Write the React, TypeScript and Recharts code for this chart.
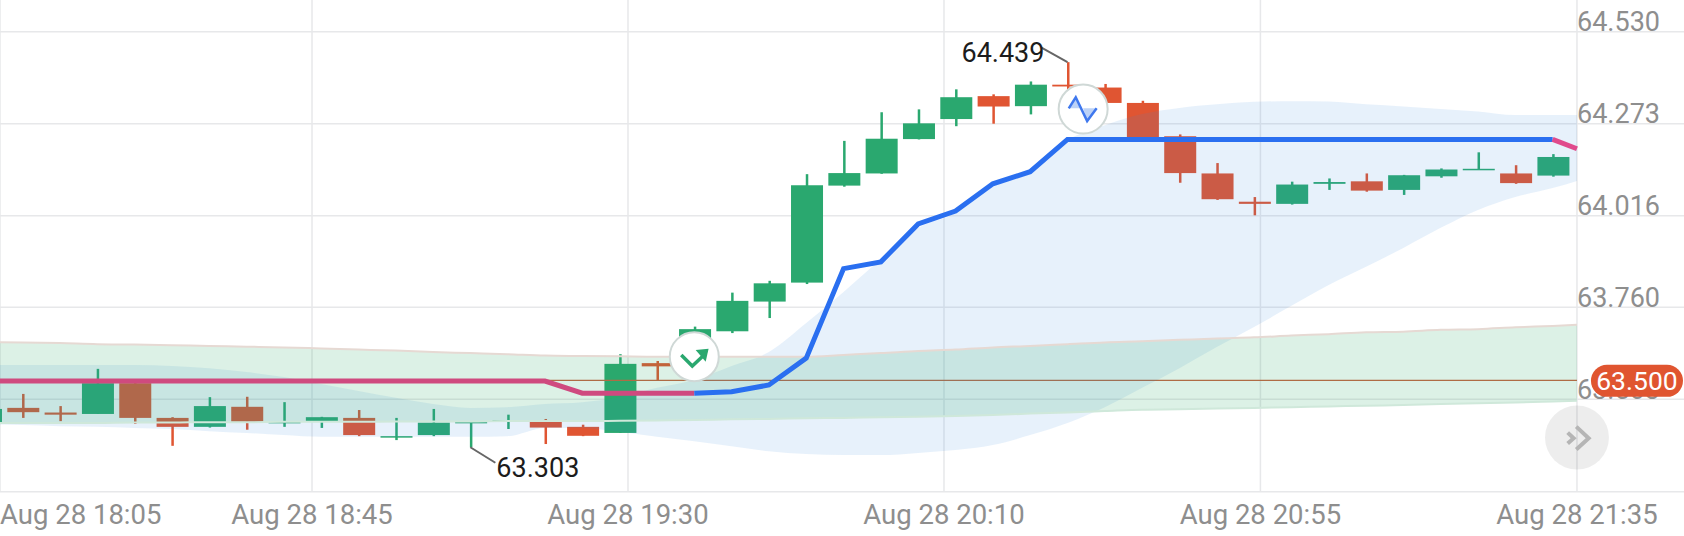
import React from "react";
import {
  ComposedChart, Bar, Area, Line, XAxis, YAxis, CartesianGrid, ReferenceLine, ReferenceDot,
} from "recharts";

const FONT = "Roboto, sans-serif";
const WIDTH = 1684;
const HEIGHT = 536;

const candleOpen = [63.434,63.479,63.466,63.462,63.548,63.451,63.426,63.482,63.437,63.440,63.451,63.398,63.403,63.438,63.442,63.442,63.426,63.409,63.604,63.635,63.693,63.776,63.829,64.100,64.134,64.230,64.286,64.350,64.322,64.382,64.374,64.331,64.238,64.134,64.055,64.049,64.105,64.112,64.088,64.126,64.144,64.134,64.128];
const candleClose = [63.476,63.467,63.460,63.548,63.451,63.426,63.484,63.440,63.440,63.453,63.403,63.400,63.438,63.440,63.445,63.424,63.401,63.602,63.595,63.699,63.778,63.827,64.101,64.135,64.231,64.274,64.347,64.321,64.382,64.377,64.331,64.230,64.135,64.062,64.049,64.103,64.110,64.086,64.129,64.145,64.147,64.107,64.180];
const candleHigh = [63.487,63.518,63.484,63.588,63.554,63.453,63.509,63.510,63.495,63.454,63.473,63.451,63.476,63.440,63.460,63.448,63.432,63.629,63.610,63.706,63.801,63.834,64.132,64.225,64.305,64.313,64.369,64.355,64.391,64.445,64.384,64.337,64.243,64.163,64.068,64.111,64.120,64.134,64.130,64.148,64.193,64.157,64.188];
const candleLow = [63.428,63.451,63.442,63.462,63.434,63.373,63.424,63.418,63.426,63.423,63.400,63.389,63.400,63.369,63.420,63.378,63.400,63.409,63.557,63.630,63.688,63.730,63.825,64.097,64.133,64.229,64.266,64.273,64.299,64.353,64.330,64.229,64.108,64.060,64.017,64.047,64.088,64.083,64.074,64.122,64.144,64.105,64.125];

// The last entry of each indicator list is its value at the right edge of the drawn range.
const blueUpper = [63.599,63.599,63.599,63.599,63.599,63.596,63.590,63.579,63.565,63.546,63.526,63.507,63.490,63.479,63.481,63.490,63.495,63.509,63.535,63.557,63.596,63.635,63.716,63.803,63.895,63.982,64.023,64.099,64.135,64.227,64.269,64.300,64.317,64.327,64.334,64.336,64.335,64.327,64.321,64.314,64.307,64.297,64.297,64.297];
const blueLower = [63.434,63.431,63.428,63.426,63.423,63.420,63.414,63.409,63.403,63.398,63.398,63.398,63.398,63.398,63.400,63.423,63.423,63.412,63.398,63.386,63.372,63.358,63.350,63.347,63.347,63.353,63.361,63.375,63.403,63.437,63.481,63.535,63.590,63.649,63.705,63.764,63.822,63.873,63.926,63.982,64.032,64.068,64.093,64.113];
const greenUpper = [63.663,63.662,63.660,63.657,63.656,63.654,63.652,63.650,63.648,63.645,63.642,63.639,63.635,63.632,63.629,63.625,63.624,63.623,63.622,63.622,63.622,63.622,63.622,63.627,63.632,63.638,63.642,63.648,63.652,63.657,63.662,63.665,63.669,63.673,63.676,63.681,63.685,63.690,63.692,63.697,63.699,63.704,63.708,63.711];
const greenLower = [63.436,63.437,63.437,63.437,63.438,63.438,63.439,63.439,63.440,63.440,63.440,63.441,63.441,63.441,63.442,63.442,63.442,63.443,63.444,63.445,63.447,63.448,63.450,63.451,63.453,63.454,63.456,63.459,63.463,63.466,63.470,63.474,63.475,63.477,63.479,63.481,63.483,63.485,63.487,63.490,63.492,63.494,63.497,63.499];
const trendLine = [63.554,63.554,63.554,63.554,63.554,63.554,63.554,63.554,63.554,63.554,63.554,63.554,63.554,63.554,63.554,63.554,63.520,63.520,63.520,63.520,63.524,63.543,63.618,63.868,63.887,63.993,64.029,64.105,64.139,64.229,64.229,64.229,64.229,64.229,64.229,64.229,64.229,64.229,64.229,64.229,64.229,64.229,64.229,64.203];

const X_MIN = 0.3966;
const X_MAX = 45.52;
const X_END = 42.652;
const Y_MIN = 63.2448;
const Y_MAX = 64.6186;

const xTickValues = [X_MIN, 8.757, 17.224, 25.691, 34.17, X_END];
const xTickLabels = ["Aug 28 18:05", "Aug 28 18:45", "Aug 28 19:30", "Aug 28 20:10", "Aug 28 20:55", "Aug 28 21:35"];
const yTickValues = [64.53, 64.273, 64.016, 63.76, 63.503];
const yTickLabels = ["64.530", "64.273", "64.016", "63.760", "63.503"];

const LAST_PRICE_LEVEL = 63.556;
const LAST_PRICE_LABEL = "63.500";
const HIGH_LABEL = "64.439";
const LOW_LABEL = "63.303";
const HIGH_INDEX = 29;
const LOW_INDEX = 13;
const BUY_INDEX = 19;
const BUY_LEVEL = 63.622;
const WAVE_INDEX = 29.42;
const WAVE_LEVEL = 64.314;
const NEXT_LEVEL = 63.396;

const PINK_END = 19;
const BLUE_END = 42;

const rows = trendLine.map((t, i) => {
  const isCandle = i < candleOpen.length;
  return {
    x: isCandle ? i : X_END,
    open: isCandle ? candleOpen[i] : null,
    close: isCandle ? candleClose[i] : null,
    high: isCandle ? candleHigh[i] : null,
    low: isCandle ? candleLow[i] : null,
    range: isCandle ? [candleLow[i], candleHigh[i]] : null,
    blueBand: [blueLower[i], blueUpper[i]],
    greenBand: [greenLower[i], greenUpper[i]],
    greenTop: greenUpper[i],
    greenBottom: greenLower[i],
    pinkA: i <= PINK_END ? t : null,
    blue: i >= PINK_END && i <= BLUE_END ? t : null,
    pinkB: i >= BLUE_END ? t : null,
  };
});

const UP = "#2aa86f";
const DOWN = "#e05532";
const GRID = "#e7e8ea";
const LABEL = "#8e8e8e";

function Candle(props: any) {
  const { x, y, width, height, payload } = props;
  if (!payload || payload.open == null || !height) return null;
  const { open, close, high, low } = payload;
  const perUnit = height / (high - low);
  const top = y + (high - Math.max(open, close)) * perUnit;
  const bottom = y + (high - Math.min(open, close)) * perUnit;
  const cx = x + width / 2 + 1;
  const color = close >= open ? UP : DOWN;
  return (
    <g>
      <rect x={cx - 1.25} y={y} width={2.5} height={height} fill={color} />
      <rect x={cx - 16} y={top} width={32} height={Math.max(bottom - top, 1.5)} fill={color} />
    </g>
  );
}

function XTick(props: any) {
  const { x, y, payload, index } = props;
  const first = index === 0;
  return (
    <text x={x} y={y + 15} dy="0.35em" textAnchor={first ? "start" : "middle"}
      fontSize={27.5} fontFamily={FONT} fill={LABEL}>
      {xTickLabels[xTickValues.indexOf(payload.value)]}
    </text>
  );
}

function YTick(props: any) {
  const { y, payload } = props;
  return (
    <text x={1577} y={y} dy={-0.5} textAnchor="start" fontSize={27} fontFamily={FONT} fill={LABEL}>
      {yTickLabels[yTickValues.indexOf(payload.value)]}
    </text>
  );
}

function PricePill(props: any) {
  const { cx, cy } = props;
  return (
    <g>
      <rect x={cx + 14} y={cy - 15.5} width={92} height={32} rx={16} fill="#e05530" />
      <text x={cx + 60} y={cy + 0.5} dy="0.35em" textAnchor="middle" fontSize={26.5} fontFamily={FONT} fill="#fff">
        {LAST_PRICE_LABEL}
      </text>
    </g>
  );
}

function HighNote(props: any) {
  const { cx, cy } = props;
  return (
    <g>
      <polyline points={`${cx},${cy} ${cx - 26},${cy - 14.5}`} fill="none" stroke="#666" strokeWidth={2} />
      <text x={cx - 23} y={cy} textAnchor="end" fontSize={27} fontFamily={FONT} fill="#1c1c1c">
        {HIGH_LABEL}
      </text>
    </g>
  );
}

function LowNote(props: any) {
  const { cx, cy } = props;
  return (
    <g>
      <polyline points={`${cx},${cy} ${cx + 25},${cy + 15.5}`} fill="none" stroke="#666" strokeWidth={2} />
      <text x={cx + 26} y={cy + 30} textAnchor="start" fontSize={27} fontFamily={FONT} fill="#1c1c1c">
        {LOW_LABEL}
      </text>
    </g>
  );
}

function BuyBadge(props: any) {
  const { cx, cy } = props;
  return (
    <g transform={`translate(${cx},${cy})`}>
      <circle r={24.5} fill="#fff" stroke="#cfd8d6" strokeWidth={2} />
      <polyline points="-13,-1.7 -2,9.3 9,-1" fill="none" stroke={UP} strokeWidth={3.5} />
      <polygon points="1.4,-6.7 14.3,-8 11.4,5" fill={UP} />
    </g>
  );
}

function WaveBadge(props: any) {
  const { cx, cy } = props;
  return (
    <g transform={`translate(${cx},${cy})`}>
      <circle r={24.5} fill="#fff" stroke="#cfd8d6" strokeWidth={2} />
      <polygon points="-14.4,-0.7 -7.4,-11.7 -2,-0.7" fill="#bcd2f7" />
      <polygon points="0,-0.7 13.5,-0.7 4,12" fill="#bcd2f7" />
      <polyline points="-14.4,-0.7 -7.4,-11.7 4,12 13.5,-0.7" fill="none" stroke="#3f78ee" strokeWidth={2.5} />
    </g>
  );
}

function NextButton(props: any) {
  const { cx, cy } = props;
  return (
    <g transform={`translate(${cx},${cy})`}>
      <circle r={32} fill="#000" fillOpacity={0.07} />
      <polyline points="-9.3,-5 -3.3,0.7 -9.3,6" fill="none" stroke="#b5b5b5" strokeWidth={4} />
      <polyline points="-0.7,-11 11.7,0.7 -0.7,12" fill="none" stroke="#b5b5b5" strokeWidth={4} />
    </g>
  );
}

export default function App() {
  return (
    <div style={{ position: "absolute", left: 0, top: 0, width: WIDTH, height: HEIGHT, background: "#fff", overflow: "hidden" }}>
      <ComposedChart width={WIDTH} height={HEIGHT} data={rows} margin={{ top: 0, right: 0, bottom: 0, left: 0 }}>
        <CartesianGrid stroke={GRID} strokeWidth={1.5} syncWithTicks />
        <XAxis dataKey="x" type="number" domain={[X_MIN, X_MAX]} ticks={xTickValues} allowDataOverflow interval={0}
          height={44.3} tickLine={false} axisLine={{ stroke: GRID, strokeWidth: 1.5 }} tick={<XTick />} />
        <YAxis type="number" orientation="right" mirror width={107} domain={[Y_MIN, Y_MAX]} ticks={yTickValues} allowDataOverflow interval={0}
          axisLine={false} tickLine={false} tick={<YTick />} />
        <Bar dataKey="range" barSize={32} shape={<Candle />} isAnimationActive={false} zIndex={300} />
        <ReferenceLine segment={[{ x: X_MIN, y: LAST_PRICE_LEVEL }, { x: X_END, y: LAST_PRICE_LEVEL }]} stroke="#c9603f" strokeWidth={1.2} zIndex={310} />
        <Area dataKey="blueBand" type="monotone" stroke="none" fill="#3c8ce0" fillOpacity={0.12} dot={false} activeDot={false} isAnimationActive={false} zIndex={320} />
        <Area dataKey="greenBand" type="monotone" stroke="none" fill="#28aa69" fillOpacity={0.165} dot={false} activeDot={false} isAnimationActive={false} zIndex={330} />
        <Line dataKey="greenTop" type="monotone" stroke="#e6d9d3" strokeWidth={2} dot={false} activeDot={false} isAnimationActive={false} zIndex={340} />
        <Line dataKey="greenBottom" type="monotone" stroke="#cfe8da" strokeWidth={2} dot={false} activeDot={false} isAnimationActive={false} zIndex={340} />
        <Line dataKey="pinkA" type="linear" stroke="#cf4a7f" strokeWidth={5} dot={false} activeDot={false} isAnimationActive={false} zIndex={400} />
        <Line dataKey="blue" type="linear" stroke="#2a6ff0" strokeWidth={5} dot={false} activeDot={false} isAnimationActive={false} zIndex={400} />
        <Line dataKey="pinkB" type="linear" stroke="#e04a8c" strokeWidth={5} dot={false} activeDot={false} isAnimationActive={false} zIndex={400} />
        <ReferenceDot x={HIGH_INDEX} y={candleHigh[HIGH_INDEX]} ifOverflow="visible" shape={<HighNote />} zIndex={500} />
        <ReferenceDot x={LOW_INDEX} y={candleLow[LOW_INDEX]} ifOverflow="visible" shape={<LowNote />} zIndex={500} />
        <ReferenceDot x={BUY_INDEX} y={BUY_LEVEL} ifOverflow="visible" shape={<BuyBadge />} zIndex={510} />
        <ReferenceDot x={WAVE_INDEX} y={WAVE_LEVEL} ifOverflow="visible" shape={<WaveBadge />} zIndex={510} />
        <ReferenceDot x={X_END} y={NEXT_LEVEL} ifOverflow="visible" shape={<NextButton />} zIndex={510} />
        <ReferenceDot x={X_END} y={LAST_PRICE_LEVEL} ifOverflow="visible" shape={<PricePill />} zIndex={2100} />
      </ComposedChart>
    </div>
  );
}
